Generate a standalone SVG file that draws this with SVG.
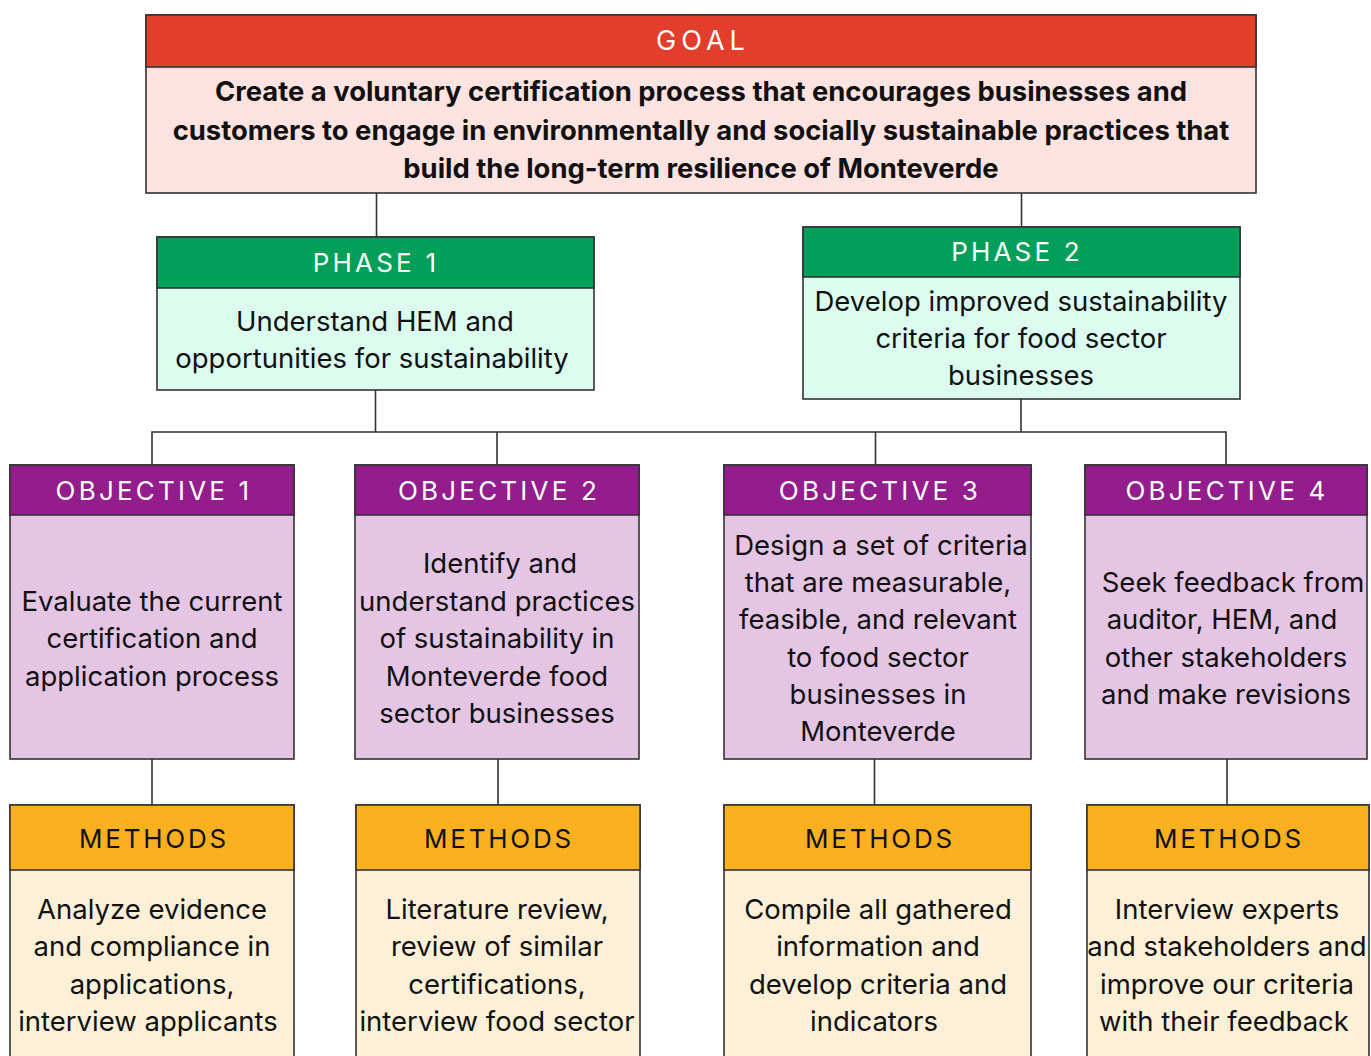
<svg xmlns="http://www.w3.org/2000/svg" width="1371" height="1056" viewBox="0 0 1371 1056">
  <style>
    .box { stroke: #333333; stroke-width: 1.6; }
    .wire { stroke: #333333; stroke-width: 1.6; fill: none; }
    text { font-family: Inter, "Noto Sans", "Liberation Sans", sans-serif; text-anchor: middle; dominant-baseline: central; }
    .hd { font-size: 26px; letter-spacing: 3.2px; fill: #ffffff; }
    .hd-goal { font-size: 27px; letter-spacing: 5px; fill: #ffffff; }
    .hd-dark { font-size: 26px; letter-spacing: 2.8px; fill: #111111; }
    .body { font-size: 27.5px; fill: #111111; }
    .bold { font-size: 27.4px; font-weight: 700; fill: #111111; }
    .goal-h { fill: #E33D2B; }
    .goal-b { fill: #FFE3E0; }
    .phase-h { fill: #009F59; }
    .phase-b { fill: #DBFCEF; }
    .obj-h { fill: #931D8D; }
    .obj-b { fill: #E4C5E4; }
    .meth-h { fill: #FBB020; }
    .meth-b { fill: #FEF0D6; }
  </style>
  <rect width="1371" height="1056" fill="#ffffff"/>

  <!-- connectors -->
  <g id="connectors">
    <line class="wire" x1="376.5" y1="193" x2="376.5" y2="237"/>
    <line class="wire" x1="1021.5" y1="193" x2="1021.5" y2="227"/>
    <line class="wire" x1="375.5" y1="390" x2="375.5" y2="432"/>
    <line class="wire" x1="1021" y1="399" x2="1021" y2="432"/>
    <polyline class="wire" points="152,465 152,432 1226,432 1226,465"/>
    <line class="wire" x1="497" y1="432" x2="497" y2="465"/>
    <line class="wire" x1="875.5" y1="432" x2="875.5" y2="465"/>
    <line class="wire" x1="152" y1="759" x2="152" y2="805"/>
    <line class="wire" x1="498" y1="759" x2="498" y2="805"/>
    <line class="wire" x1="874.5" y1="759" x2="874.5" y2="805"/>
    <line class="wire" x1="1227" y1="759" x2="1227" y2="805"/>
  </g>

  <!-- goal -->
  <g id="goal">
    <rect class="box goal-b" x="146" y="15" width="1110" height="178"/>
    <rect class="box goal-h" x="146" y="15" width="1110" height="52"/>
    <text class="hd-goal" x="703" y="40">GOAL</text>
    <text class="bold" x="701" y="91">Create a voluntary certification process that encourages businesses and</text>
    <text class="bold" x="701" y="130">customers to engage in environmentally and socially sustainable practices that</text>
    <text class="bold" x="701" y="168">build the long-term resilience of Monteverde</text>
  </g>

  <!-- phase 1 -->
  <g id="phase1">
    <rect class="box phase-b" x="157" y="237" width="437" height="153"/>
    <rect class="box phase-h" x="157" y="237" width="437" height="51"/>
    <text class="hd" x="376" y="262">PHASE 1</text>
    <text class="body" x="375" y="321">Understand HEM and</text>
    <text class="body" x="372" y="358">opportunities for sustainability</text>
  </g>

  <!-- phase 2 -->
  <g id="phase2">
    <rect class="box phase-b" x="803" y="227" width="437" height="172"/>
    <rect class="box phase-h" x="803" y="227" width="437" height="50"/>
    <text class="hd" x="1017" y="251">PHASE 2</text>
    <text class="body" x="1021" y="301">Develop improved sustainability</text>
    <text class="body" x="1021" y="338">criteria for food sector</text>
    <text class="body" x="1021" y="375">businesses</text>
  </g>

  <!-- objectives -->
  <g id="objective1">
    <rect class="box obj-b" x="10" y="465" width="284" height="294"/>
    <rect class="box obj-h" x="10" y="465" width="284" height="50"/>
    <text class="hd" x="154" y="490">OBJECTIVE 1</text>
    <text class="body" x="152" y="601">Evaluate the current</text>
    <text class="body" x="152" y="638">certification and</text>
    <text class="body" x="152" y="676">application process</text>
  </g>
  <g id="objective2">
    <rect class="box obj-b" x="355" y="465" width="284" height="294"/>
    <rect class="box obj-h" x="355" y="465" width="284" height="50"/>
    <text class="hd" x="499" y="490">OBJECTIVE 2</text>
    <text class="body" x="500" y="563">Identify and</text>
    <text class="body" x="497" y="601">understand practices</text>
    <text class="body" x="497" y="638">of sustainability in</text>
    <text class="body" x="497" y="676">Monteverde food</text>
    <text class="body" x="497" y="713">sector businesses</text>
  </g>
  <g id="objective3">
    <rect class="box obj-b" x="724" y="465" width="307" height="294"/>
    <rect class="box obj-h" x="724" y="465" width="307" height="50"/>
    <text class="hd" x="880" y="490">OBJECTIVE 3</text>
    <text class="body" x="881" y="545">Design a set of criteria</text>
    <text class="body" x="878" y="582">that are measurable,</text>
    <text class="body" x="878" y="619">feasible, and relevant</text>
    <text class="body" x="878" y="657">to food sector</text>
    <text class="body" x="878" y="694">businesses in</text>
    <text class="body" x="878" y="731">Monteverde</text>
  </g>
  <g id="objective4">
    <rect class="box obj-b" x="1085" y="465" width="282" height="294"/>
    <rect class="box obj-h" x="1085" y="465" width="282" height="50"/>
    <text class="hd" x="1227" y="490">OBJECTIVE 4</text>
    <text class="body" x="1233" y="582">Seek feedback from</text>
    <text class="body" x="1222" y="619">auditor, HEM, and</text>
    <text class="body" x="1226" y="657">other stakeholders</text>
    <text class="body" x="1226" y="694">and make revisions</text>
  </g>

  <!-- methods -->
  <g id="methods1">
    <rect class="box meth-b" x="10" y="805" width="284" height="270"/>
    <rect class="box meth-h" x="10" y="805" width="284" height="65"/>
    <text class="hd-dark" x="154" y="838">METHODS</text>
    <text class="body" x="152" y="909">Analyze evidence</text>
    <text class="body" x="152" y="946">and compliance in</text>
    <text class="body" x="152" y="984">applications,</text>
    <text class="body" x="148" y="1021">interview applicants</text>
  </g>
  <g id="methods2">
    <rect class="box meth-b" x="356" y="805" width="284" height="270"/>
    <rect class="box meth-h" x="356" y="805" width="284" height="65"/>
    <text class="hd-dark" x="499" y="838">METHODS</text>
    <text class="body" x="497" y="909">Literature review,</text>
    <text class="body" x="497" y="946">review of similar</text>
    <text class="body" x="497" y="984">certifications,</text>
    <text class="body" x="497" y="1021">interview food sector</text>
  </g>
  <g id="methods3">
    <rect class="box meth-b" x="724" y="805" width="307" height="270"/>
    <rect class="box meth-h" x="724" y="805" width="307" height="65"/>
    <text class="hd-dark" x="880" y="838">METHODS</text>
    <text class="body" x="878" y="909">Compile all gathered</text>
    <text class="body" x="878" y="946">information and</text>
    <text class="body" x="878" y="984">develop criteria and</text>
    <text class="body" x="874" y="1021">indicators</text>
  </g>
  <g id="methods4">
    <rect class="box meth-b" x="1087" y="805" width="282" height="270"/>
    <rect class="box meth-h" x="1087" y="805" width="282" height="65"/>
    <text class="hd-dark" x="1229" y="838">METHODS</text>
    <text class="body" x="1227" y="909">Interview experts</text>
    <text class="body" x="1227" y="946">and stakeholders and</text>
    <text class="body" x="1227" y="984">improve our criteria</text>
    <text class="body" x="1224" y="1021">with their feedback</text>
  </g>
</svg>
